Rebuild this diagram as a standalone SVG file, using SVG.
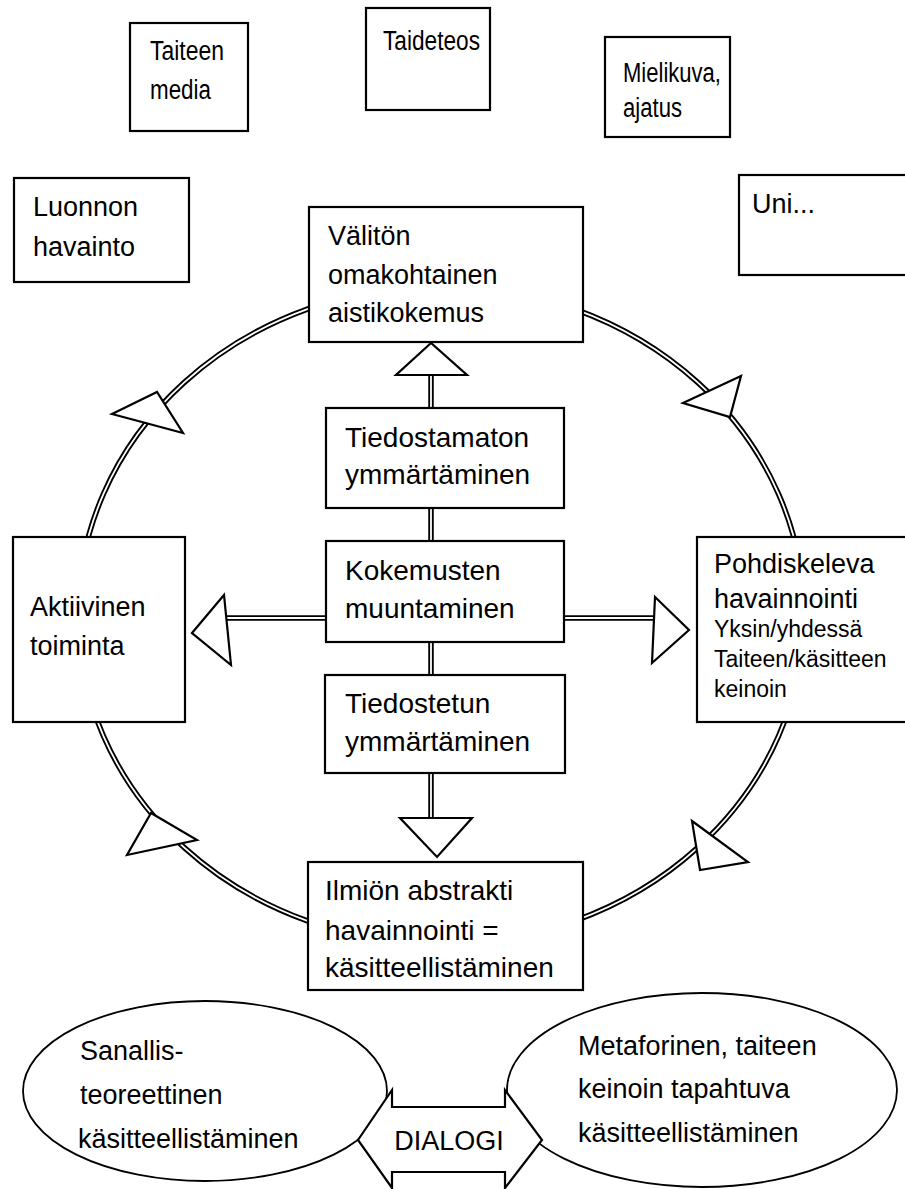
<svg xmlns="http://www.w3.org/2000/svg" width="905" height="1189" viewBox="0 0 905 1189">
<style>
.box{fill:#fff;stroke:#000;stroke-width:2.2}
.t{font-family:"Liberation Sans",Arial,sans-serif;font-size:27px;fill:#000}
.c{font-size:28px}
.s{font-family:"Liberation Sans",Arial,sans-serif;font-size:23px;fill:#000}
.dblo{fill:none;stroke:#000;stroke-width:5.5}
.dbli{fill:none;stroke:#fff;stroke-width:1.8}
.tri{fill:#fff;stroke:#000;stroke-width:2.2;stroke-linejoin:miter}
.ell{fill:#fff;stroke:#000;stroke-width:1.8}
</style>
<rect width="905" height="1189" fill="#fff"/>
<g id="connectors">
  <ellipse class="dblo" cx="441" cy="615" rx="363" ry="329"/>
  <ellipse class="dbli" cx="441" cy="615" rx="363" ry="329"/>
  <path class="dblo" d="M431 373V410M431 506V543M431 640V677M431 771V820M226 618H328M562 618H657"/>
  <path class="dbli" d="M431 373V410M431 506V543M431 640V677M431 771V820M226 618H328M562 618H657"/>
  <polygon class="tri" points="431,343 396,375 467,375"/>
  <polygon class="tri" points="400,818 472,818 437,857"/>
  <polygon class="tri" points="192,633 224,595 231,665"/>
  <polygon class="tri" points="655,597 689,630 652,663"/>
  <polygon class="tri" points="112,414 157,392 183,433"/>
  <polygon class="tri" points="683,403 741,376 730,417"/>
  <polygon class="tri" points="151,813 197,840 127,855"/>
  <polygon class="tri" points="692,821 748,862 700,870"/>
</g>
<g id="taiteen-media"><rect class="box" x="130" y="23" width="118" height="108"/><text class="t" x="150" y="60" textLength="74" lengthAdjust="spacingAndGlyphs">Taiteen</text><text class="t" x="150" y="99" textLength="61" lengthAdjust="spacingAndGlyphs">media</text></g>
<g id="taideteos"><rect class="box" x="366" y="8" width="124" height="102"/><text class="t" x="383" y="50" textLength="97" lengthAdjust="spacingAndGlyphs">Taideteos</text></g>
<g id="mielikuva"><rect class="box" x="605" y="37" width="125" height="100"/><text class="t" x="623" y="82" textLength="98" lengthAdjust="spacingAndGlyphs">Mielikuva,</text><text class="t" x="623" y="117" textLength="59" lengthAdjust="spacingAndGlyphs">ajatus</text></g>
<g id="luonnon"><rect class="box" x="14" y="178" width="175" height="104"/><text class="t" x="33" y="216">Luonnon</text><text class="t" x="33" y="256">havainto</text></g>
<g id="uni"><rect class="box" x="739" y="175" width="170" height="100"/><text class="t" x="752" y="213">Uni...</text></g>
<g id="valiton"><rect class="box" x="309" y="207" width="274" height="135"/><text class="t" x="328" y="245">Välitön</text><text class="t" x="328" y="284">omakohtainen</text><text class="t" x="328" y="322">aistikokemus</text></g>
<g id="tiedostamaton"><rect class="box" x="326" y="408" width="238" height="100"/><text class="t c" x="345" y="447">Tiedostamaton</text><text class="t c" x="345" y="484">ymmärtäminen</text></g>
<g id="kokemusten"><rect class="box" x="326" y="541" width="238" height="101"/><text class="t c" x="345" y="580">Kokemusten</text><text class="t c" x="345" y="618">muuntaminen</text></g>
<g id="tiedostetun"><rect class="box" x="325" y="675" width="240" height="98"/><text class="t c" x="345" y="713">Tiedostetun</text><text class="t c" x="345" y="751">ymmärtäminen</text></g>
<g id="ilmion"><rect class="box" x="308" y="862" width="275" height="128"/><text class="t c" x="325" y="900">Ilmiön abstrakti</text><text class="t c" x="325" y="940">havainnointi =</text><text class="t c" x="325" y="977">käsitteellistäminen</text></g>
<g id="aktiivinen"><rect class="box" x="13" y="537" width="172" height="185"/><text class="t" x="30" y="616">Aktiivinen</text><text class="t" x="30" y="655">toiminta</text></g>
<g id="pohdiskeleva"><rect class="box" x="697" y="537" width="212" height="185"/><text class="t" x="714" y="573">Pohdiskeleva</text><text class="t" x="714" y="608">havainnointi</text><text class="s" x="714" y="637">Yksin/yhdessä</text><text class="s" x="714" y="667">Taiteen/käsitteen</text><text class="s" x="714" y="697">keinoin</text></g>
<g id="sanallis"><ellipse class="ell" cx="205" cy="1091" rx="182" ry="90"/><text class="t" x="80" y="1060">Sanallis-</text><text class="t" x="80" y="1104">teoreettinen</text><text class="t" x="78" y="1148">käsitteellistäminen</text></g>
<g id="metaforinen"><ellipse class="ell" cx="702" cy="1090" rx="195" ry="97"/><text class="t" x="578" y="1055">Metaforinen, taiteen</text><text class="t" x="578" y="1098">keinoin tapahtuva</text><text class="t" x="578" y="1142">käsitteellistäminen</text></g>
<g id="dialogi"><path class="tri" d="M358 1140L392 1090V1107H505V1090L542 1140L505 1188V1172H392V1188Z"/><text class="t" x="449" y="1150" text-anchor="middle" style="font-size:27px">DIALOGI</text></g>
</svg>
